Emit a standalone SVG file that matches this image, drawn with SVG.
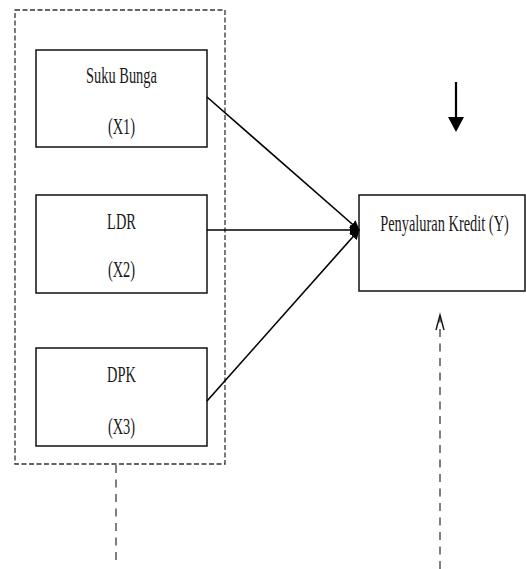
<svg xmlns="http://www.w3.org/2000/svg" width="526" height="569" viewBox="0 0 526 569">
<style>
.box{fill:#fff;stroke:#111;stroke-width:1.5}
.frame{fill:none;stroke:#333;stroke-width:1.3;stroke-dasharray:5 2.5}
.dash{fill:none;stroke:#555;stroke-width:1.5;stroke-dasharray:8 6.5}
.line{stroke:#000;stroke-width:1.6;fill:none}
</style>
<defs>
<marker id="ah" markerWidth="10" markerHeight="10" refX="9" refY="5" orient="auto" markerUnits="userSpaceOnUse">
<path d="M0,0 L10,5 L0,10 Z" fill="#000"/>
</marker>
</defs>
<g id="frame">
<rect class="frame" x="15" y="10" width="210" height="454"/>
</g>
<g font-family="'Liberation Serif', 'Times New Roman', serif" font-size="24" fill="#1a1a1a" text-anchor="middle">
<g id="node-x1">
<rect class="box" x="36" y="50" width="171" height="97"/>
<text transform="translate(121.5,83) scale(0.6,1)">Suku Bunga</text>
<text transform="translate(121.5,134) scale(0.6,1)">(X1)</text>
</g>
<g id="node-x2">
<rect class="box" x="36" y="195" width="171" height="98"/>
<text transform="translate(121.5,229) scale(0.6,1)">LDR</text>
<text transform="translate(121.5,277) scale(0.6,1)">(X2)</text>
</g>
<g id="node-x3">
<rect class="box" x="36" y="348" width="171" height="98"/>
<text transform="translate(121.5,382) scale(0.6,1)">DPK</text>
<text transform="translate(121.5,434) scale(0.6,1)">(X3)</text>
</g>
<g id="node-y">
<rect class="box" x="359" y="195" width="166" height="96"/>
<text transform="translate(444.5,231) scale(0.6,1)">Penyaluran Kredit (Y)</text>
</g>
</g>
<g id="connectors">
<line class="line" x1="207" y1="97" x2="359" y2="230" marker-end="url(#ah)"/>
<line class="line" x1="207" y1="230" x2="359" y2="230" marker-end="url(#ah)"/>
<line class="line" x1="207" y1="401" x2="359" y2="230" marker-end="url(#ah)"/>
<line x1="456" y1="82" x2="456" y2="120" stroke="#000" stroke-width="2.2"/>
<path d="M448,117 L464,117 L456,132 Z" fill="#000"/>
<line class="dash" x1="116" y1="465" x2="116" y2="566" stroke-dasharray="6 6"/>
<line class="dash" x1="440" y1="569" x2="440" y2="316"/>
<path d="M436,330 L440,315 L444,330" fill="none" stroke="#111" stroke-width="1.4"/>
</g>
</svg>
